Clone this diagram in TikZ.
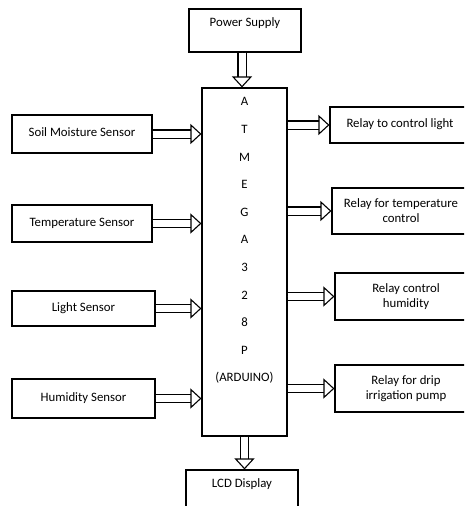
\documentclass[tikz,border=0pt]{standalone}
\usepackage{fontspec}
\setmainfont{Carlito}
\usetikzlibrary{arrows.meta}

\tikzset{
  blk/.style={draw, line width=1.1pt, align=center, inner sep=0pt},
  toptext/.style={anchor=north, align=center, inner sep=0pt},
  shaft/.style={double, double distance=7pt, line width=1.1pt, shorten >=10pt},
  head/.style={draw=white, line width=1pt, -{Triangle[open, length=11pt, width=20pt, line width=1.1pt, color=black]}},
}

\begin{document}
\begin{tikzpicture}[x=1pt, y=-1pt, font=\fontsize{12.8}{15}\selectfont]
  \clip (0,0) rectangle (464,506);
  % controller in the middle
  \node[blk, minimum width=85, minimum height=348,
        label={[toptext, font=\fontsize{12.8}{27.6}\selectfont, yshift=-10pt]north:A\\T\\M\\E\\G\\A\\3\\2\\8\\P\\(ARDUINO)}]
        (atm) at (244.5,262) {};
  % supply and display
  \node[blk, minimum width=112, minimum height=43,
        label={[toptext, yshift=-9pt]north:Power Supply}] (pwr) at (245,30.5) {};
  \node[blk, minimum width=112, minimum height=45,
        label={[toptext, yshift=-9pt]north:LCD Display}] (lcd) at (242,492.5) {};
  % sensors
  \node[blk, minimum width=140, minimum height=38] (soil) at (82,134) {\raisebox{3pt}{Soil Moisture Sensor}};
  \node[blk, minimum width=140, minimum height=37] (temp) at (82,223.5) {\raisebox{3pt}{Temperature Sensor}};
  \node[blk, minimum width=143, minimum height=35] (light) at (83.5,308.5) {\raisebox{3pt}{Light Sensor}};
  \node[blk, minimum width=143, minimum height=39] (hum) at (83.5,398.5) {\raisebox{3pt}{Humidity Sensor}};
  % relays
  \node[blk, minimum width=140, minimum height=36] (rlight) at (400,125) {\raisebox{3pt}{Relay to control light}};
  \node[blk, minimum width=138, minimum height=46] (rtemp) at (401,211) {Relay for temperature\\control};
  \node[blk, minimum width=142, minimum height=47] (rhum) at (406,296.5) {Relay control\\humidity};
  \node[blk, minimum width=142, minimum height=47] (rdrip) at (406,388.5) {Relay for drip\\irrigation pump};
  % arrows: hollow shaft, then open head on top
  \coordinate (p1) at (pwr.south -| 242,0);
  \coordinate (p2) at (atm.north -| 242,0);
  \coordinate (l1) at (atm.south);
  \coordinate (l2) at (lcd.north -| atm.south);
  \draw[shaft] (p1) -- (p2);  \draw[head] (p1) -- (p2);
  \draw[shaft] (l1) -- (l2);  \draw[head] (l1) -- (l2);
  \foreach \s in {soil, temp, light, hum} {
    \draw[shaft] (\s.east) -- (\s.east -| atm.west);
    \draw[head] (\s.east) -- (\s.east -| atm.west);
  }
  \foreach \r in {rlight, rtemp, rhum, rdrip} {
    \draw[shaft] (atm.east |- \r.west) -- (\r.west);
    \draw[head] (atm.east |- \r.west) -- (\r.west);
  }
\end{tikzpicture}
\end{document}
